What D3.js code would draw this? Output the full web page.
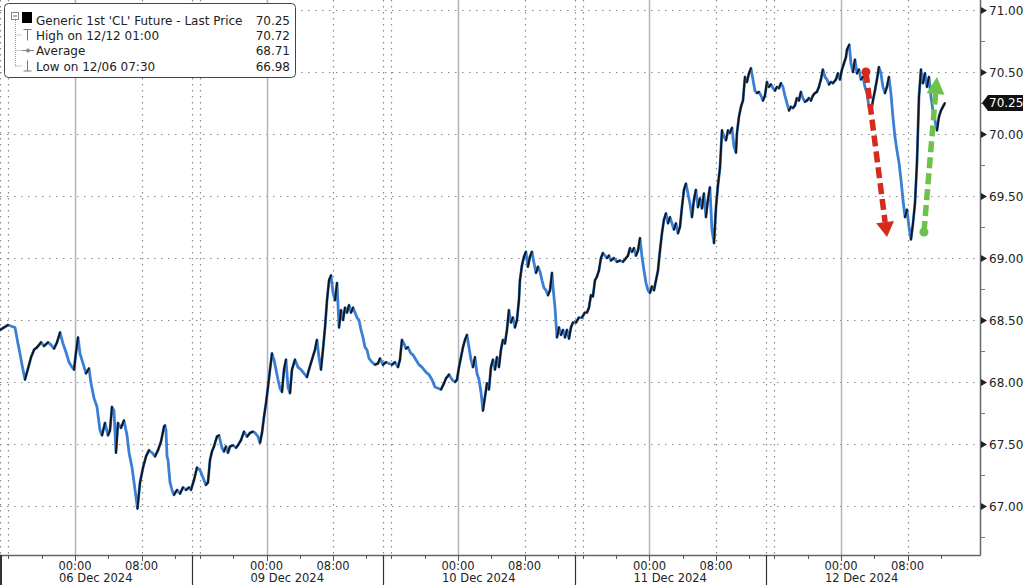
<!DOCTYPE html>
<meta charset="utf-8" />
<style>
  body { margin: 0; background: #fff; }
  svg text { font-family: "DejaVu Sans", Tahoma, sans-serif; fill: #222; }
</style>
<body>
<div id="chart"></div>
<script src="https://d3js.org/d3.v7.min.js"></script>
<script>
  // x values are trading-session hours since 06 Dec 00:00
  // (one day = 23 h on this axis, the 14:00-15:00 break is cut out)
  var sessDec06 = [[-9.01,68.42],[-8.05,68.46],[-7.21,68.44],[-6.85,68.31],[-6.61,68.23],[-6.37,68.14],[-6.01,68.02],[-5.64,68.11],[-5.28,68.20],[-4.92,68.26],[-4.56,68.28],[-4.08,68.32],[-3.72,68.29],[-3.24,68.32],[-2.88,68.30],[-2.52,68.27],[-2.16,68.32],[-1.80,68.40],[-1.44,68.31],[-1.08,68.24],[-0.72,68.16],[-0.36,68.12],[-0.12,68.10],
    [0.12,68.24],[0.36,68.36],[0.60,68.23],[0.96,68.15],[1.32,68.07],[1.68,68.11],[1.92,67.99],[2.28,67.87],[2.64,67.80],[3.00,67.61],[3.24,67.57],[3.60,67.67],[3.96,67.57],[4.20,67.61],[4.44,67.80],[4.68,67.77],[4.92,67.43],[5.16,67.67],[5.52,67.63],[5.88,67.69],[6.25,67.57],[6.49,67.43],[6.85,67.31],[7.09,67.19],[7.33,67.07],[7.50,66.98],[7.81,67.19],[8.17,67.31],[8.53,67.40],[8.89,67.45],[9.25,67.43],[9.61,67.40],[9.97,67.45],[10.33,67.52],[10.69,67.64],[10.81,67.65],[10.93,67.61],[11.05,67.40],[11.17,67.37],[11.41,67.19],[11.65,67.13],[11.89,67.09],[12.25,67.13],[12.61,67.10],[12.97,67.15],[13.33,67.13],[13.69,67.15],[13.93,67.13]];
  var sessDec09 = [[14.29,67.21],[14.65,67.31],[15.01,67.29],[15.37,67.23],[15.73,67.17],[15.97,67.19],[16.21,67.37],[16.45,67.44],[16.69,67.48],[17.05,67.56],[17.29,67.57],[17.65,67.47],[17.89,67.44],[18.13,67.48],[18.37,67.43],[18.61,67.48],[18.97,67.49],[19.33,67.47],[19.57,67.49],[19.93,67.53],[20.30,67.60],[20.66,67.56],[21.02,67.59],[21.38,67.60],[21.62,67.59],[21.98,67.56],[22.22,67.51],[22.46,67.59],[22.70,67.72],[22.94,67.83],[23.18,67.96],[23.42,68.10],[23.66,68.23],[23.90,68.18],[24.14,68.10],[24.38,68.02],[24.62,67.95],[24.86,67.92],[25.10,68.10],[25.34,68.18],[25.58,67.96],[25.82,67.91],[26.06,68.10],[26.42,68.18],[26.78,68.12],[27.14,68.10],[27.50,68.07],[27.86,68.04],[28.10,68.10],[28.46,68.18],[28.82,68.26],[29.06,68.34],[29.30,68.20],[29.54,68.10],[29.78,68.26],[30.03,68.44],[30.27,68.66],[30.51,68.82],[30.75,68.86],[30.99,68.72],[31.23,68.66],[31.47,68.80],[31.71,68.44],[31.95,68.58],[32.19,68.50],[32.43,68.60],[32.67,68.56],[32.91,68.62],[33.15,68.56],[33.39,68.60],[33.63,68.56],[33.87,68.52],[34.11,68.50],[34.35,68.42],[34.59,68.36],[34.83,68.28],[35.07,68.26],[35.31,68.19],[35.67,68.16],[36.03,68.14],[36.39,68.15],[36.63,68.19],[36.99,68.14]];
  var sessDec10 = [[37.35,68.16],[37.71,68.15],[38.07,68.14],[38.43,68.16],[38.79,68.12],[39.03,68.18],[39.27,68.34],[39.51,68.31],[39.75,68.27],[39.99,68.28],[40.35,68.23],[40.59,68.22],[40.95,68.18],[41.31,68.14],[41.67,68.12],[41.91,68.10],[42.15,68.08],[42.51,68.06],[42.87,68.02],[43.23,67.96],[43.60,67.95],[43.96,67.94],[44.32,67.99],[44.56,68.03],[44.92,68.06],[45.28,68.02],[45.64,68.00],[45.88,68.02],[46.12,68.12],[46.36,68.20],[46.60,68.28],[46.84,68.34],[47.08,68.38],[47.32,68.28],[47.56,68.18],[47.80,68.12],[48.04,68.20],[48.28,68.07],[48.52,68.02],[48.76,67.92],[49.00,67.77],[49.24,67.88],[49.48,67.99],[49.72,67.94],[49.96,68.12],[50.20,68.18],[50.44,68.10],[50.68,68.20],[50.92,68.12],[51.16,68.26],[51.40,68.34],[51.64,68.31],[51.88,68.42],[52.12,68.58],[52.36,68.48],[52.60,68.52],[52.84,68.44],[53.08,68.50],[53.32,68.66],[53.44,68.82],[53.68,68.94],[53.92,69.01],[54.16,69.05],[54.40,68.93],[54.64,69.01],[54.88,69.05],[55.13,68.96],[55.37,68.88],[55.61,68.93],[55.85,68.89],[56.09,68.82],[56.33,68.76],[56.57,68.74],[56.81,68.70],[57.05,68.74],[57.29,68.88],[57.41,68.77],[57.65,68.60],[57.89,68.36],[58.13,68.44],[58.37,68.38],[58.61,68.42],[58.85,68.36],[59.09,68.42],[59.33,68.35],[59.57,68.44],[59.81,68.48]];
  var sessDec11 = [[60.17,68.48],[60.53,68.52],[60.89,68.52],[61.25,68.56],[61.49,68.56],[61.73,68.60],[61.97,68.70],[62.21,68.69],[62.45,68.82],[62.69,68.85],[62.93,68.90],[63.17,69.00],[63.41,69.04],[63.65,69.02],[63.89,69.00],[64.13,69.02],[64.37,68.98],[64.73,69.00],[65.09,68.97],[65.45,68.98],[65.81,68.97],[66.18,69.00],[66.42,69.02],[66.66,69.08],[66.90,69.05],[67.14,69.08],[67.38,69.02],[67.62,69.06],[67.86,69.16],[68.10,69.01],[68.34,68.90],[68.58,68.80],[68.82,68.74],[69.06,68.72],[69.30,68.77],[69.54,68.74],[69.78,68.82],[70.02,68.90],[70.26,69.06],[70.50,69.20],[70.74,69.31],[70.98,69.36],[71.22,69.28],[71.46,69.33],[71.70,69.28],[71.94,69.23],[72.18,69.28],[72.42,69.20],[72.66,69.25],[72.90,69.41],[73.14,69.55],[73.38,69.60],[73.62,69.52],[73.86,69.44],[74.10,69.33],[74.34,69.47],[74.58,69.55],[74.82,69.41],[75.06,69.48],[75.30,69.40],[75.54,69.52],[75.78,69.33],[76.02,69.47],[76.26,69.57],[76.50,69.23],[76.75,69.12],[76.99,69.41],[77.23,69.59],[77.47,69.73],[77.71,70.03],[77.95,69.98],[78.19,69.95],[78.43,70.03],[78.67,70.01],[78.91,70.05],[79.15,69.90],[79.39,69.85],[79.51,70.01],[79.75,70.14],[79.99,70.22],[80.23,70.27],[80.47,70.46],[80.71,70.42],[80.95,70.49],[81.19,70.53],[81.43,70.44],[81.67,70.35],[81.91,70.33],[82.15,70.34],[82.39,70.31],[82.63,70.27],[82.87,70.31]];
  var sessDec12 = [[83.11,70.42],[83.35,70.38],[83.59,70.40],[83.83,70.37],[84.07,70.35],[84.31,70.38],[84.55,70.37],[84.79,70.41],[85.03,70.38],[85.27,70.31],[85.51,70.25],[85.75,70.19],[85.99,70.22],[86.23,70.21],[86.47,70.23],[86.71,70.29],[86.95,70.27],[87.19,70.34],[87.43,70.29],[87.67,70.26],[87.91,70.27],[88.15,70.29],[88.39,70.27],[88.63,70.31],[88.87,70.33],[89.11,70.34],[89.35,70.38],[89.59,70.44],[89.83,70.52],[90.08,70.46],[90.32,70.44],[90.56,70.40],[90.80,70.42],[91.04,70.41],[91.40,70.44],[91.64,70.49],[91.88,70.44],[92.12,70.52],[92.36,70.57],[92.60,70.62],[92.72,70.68],[93.00,70.72],[93.20,70.57],[93.44,70.50],[93.68,70.60],[93.92,70.49],[94.16,70.52],[94.40,70.44],[94.64,70.46],[94.88,70.38],[95.12,70.33],[95.36,70.22],[95.60,70.17],[95.84,70.27],[96.08,70.35],[96.32,70.44],[96.56,70.54],[96.80,70.49],[97.04,70.38],[97.28,70.33],[97.52,70.38],[97.76,70.46],[98.00,70.33],[98.24,70.14],[98.48,69.98],[98.72,69.87],[98.97,69.77],[99.21,69.63],[99.45,69.47],[99.69,69.33],[99.93,69.39],[100.17,69.25],[100.41,69.15],[100.65,69.28],[100.89,69.44],[101.13,69.77],[101.37,70.30],[101.61,70.52],[101.85,70.41],[102.09,70.49],[102.33,70.38],[102.57,70.46],[102.81,70.30],[103.05,70.19],[103.29,70.11],[103.53,70.03],[103.77,70.14],[104.01,70.19],[104.25,70.22],[104.49,70.25]];

  var dayLabels = ["06 Dec 2024", "09 Dec 2024", "10 Dec 2024", "11 Dec 2024", "12 Dec 2024"];
  var timeLabels = ["00:00", "08:00"];
  var priceTicks = [67, 67.5, 68, 68.5, 69, 69.5, 70, 70.5, 71];
  var legendNames = ["Generic 1st 'CL' Future - Last Price", "High on 12/12 01:00", "Average", "Low on 12/06 07:30"];
  var legendValues = ["70.25", "70.72", "68.71", "66.98"];
  var lastPrice = 70.25;
  // hand drawn arrows: [start hour, start price, end hour, end price]
  var redArrow = [95.0, 70.50, 97.53, 69.17];
  var greenArrow = [101.97, 69.21, 103.53, 70.46];

  var width = 1024, height = 585;
  var plotRight = 980, plotBottom = 555;

  var series = sessDec06.concat(sessDec09, sessDec10, sessDec11, sessDec12);

  var x = d3.scaleLinear().domain([-9.01, 108.7]).range([0, plotRight]);
  var y = d3.scaleLinear().domain([66.605, 71.081]).range([plotBottom, 0]);

  var svg = d3.select("#chart").append("svg")
    .attr("width", width).attr("height", height);

  // grid
  var grid = svg.append("g");
  var dayIdx = d3.range(-1, 5);
  var lastHour = 105;

  priceTicks.forEach(function (p) {
    grid.append("line")
      .attr("x1", 0).attr("x2", plotRight)
      .attr("y1", Math.round(y(p)) + 0.5).attr("y2", Math.round(y(p)) + 0.5)
      .attr("stroke", "#8a8a8a").attr("stroke-width", 1.2)
      .attr("stroke-dasharray", "1.5,5.5");
  });

  dayIdx.forEach(function (k) {
    [8, 14, 15].forEach(function (o) {
      var s = 23 * k + o;
      if (s < -9.02 || s > lastHour) return;
      grid.append("line")
        .attr("x1", Math.round(x(s)) + 0.5).attr("x2", Math.round(x(s)) + 0.5)
        .attr("y1", 0).attr("y2", plotBottom)
        .attr("stroke", "#8a8a8a").attr("stroke-width", 1.2)
        .attr("stroke-dasharray", "1.5,4.5");
    });
    if (k >= 0) {
      grid.append("line")
        .attr("x1", Math.round(x(23 * k)) + 0.5).attr("x2", Math.round(x(23 * k)) + 0.5)
        .attr("y1", 0).attr("y2", plotBottom)
        .attr("stroke", "#b4b4b4").attr("stroke-width", 1.5);
    }
  });

  // price line: blue base, black where price goes up
  var line = d3.line().x(function (d) { return x(d[0]); }).y(function (d) { return y(d[1]); });
  svg.append("path").datum(series)
    .attr("fill", "none").attr("stroke", "#3a7fd5").attr("stroke-width", 2.8)
    .attr("stroke-linejoin", "round").attr("d", line);

  var ups = [];
  for (var i = 1; i < series.length; i++) {
    if (series[i][1] > series[i - 1][1]) ups.push([series[i - 1], series[i]]);
  }
  svg.append("g").selectAll("line").data(ups).enter().append("line")
    .attr("x1", function (d) { return x(d[0][0]); })
    .attr("y1", function (d) { return y(d[0][1]); })
    .attr("x2", function (d) { return x(d[1][0]); })
    .attr("y2", function (d) { return y(d[1][1]); })
    .attr("stroke", "#151515").attr("stroke-width", 1.9)
    .attr("stroke-linecap", "round");

  // arrows
  function drawArrow(a, color, headLen, headHalf) {
    var x0 = x(a[0]), y0 = y(a[1]), x1 = x(a[2]), y1 = y(a[3]);
    var dx = x1 - x0, dy = y1 - y0, len = Math.sqrt(dx * dx + dy * dy);
    var ux = dx / len, uy = dy / len;
    var bx = x1 - ux * headLen, by = y1 - uy * headLen;
    var g = svg.append("g");
    g.append("line")
      .attr("x1", x0).attr("y1", y0).attr("x2", bx).attr("y2", by)
      .attr("stroke", color).attr("stroke-width", 5.5)
      .attr("stroke-dasharray", "11,5");
    g.append("circle").attr("cx", x0).attr("cy", y0).attr("r", 4.5).attr("fill", color);
    g.append("path")
      .attr("d", "M" + x1 + "," + y1 +
        "L" + (bx - uy * headHalf) + "," + (by + ux * headHalf) +
        "L" + (bx + uy * headHalf) + "," + (by - ux * headHalf) + "Z")
      .attr("fill", color);
  }
  drawArrow(redArrow, "#d52a1e", 15, 9);
  drawArrow(greenArrow, "#6cc24a", 17, 9);

  // frame
  svg.append("line")
    .attr("x1", 0).attr("x2", plotRight + 0.5)
    .attr("y1", plotBottom + 0.5).attr("y2", plotBottom + 0.5)
    .attr("stroke", "#666").attr("stroke-width", 1.5);
  svg.append("line")
    .attr("x1", plotRight + 0.5).attr("x2", plotRight + 0.5)
    .attr("y1", 0).attr("y2", plotBottom + 0.5)
    .attr("stroke", "#666").attr("stroke-width", 1.5);

  // right axis
  var yAxis = svg.append("g");
  d3.range(66.75, 71.01, 0.25).forEach(function (p) {
    yAxis.append("line")
      .attr("x1", plotRight + 1).attr("x2", plotRight + 5)
      .attr("y1", Math.round(y(p)) + 0.5).attr("y2", Math.round(y(p)) + 0.5)
      .attr("stroke", "#777");
  });
  priceTicks.forEach(function (p) {
    var yy = Math.round(y(p)) + 0.5;
    yAxis.append("path")
      .attr("d", "M" + (plotRight + 1) + "," + (yy - 3.5) + "L" + (plotRight + 7) + "," + yy +
        "L" + (plotRight + 1) + "," + (yy + 3.5) + "Z")
      .attr("fill", "#222");
    yAxis.append("text")
      .attr("x", plotRight + 9).attr("y", yy).attr("dy", "0.36em")
      .style("font-size", "12px")
      .text(d3.format(".2f")(p));
  });

  // last price tag
  var ly = y(lastPrice);
  svg.append("path")
    .attr("d", "M" + (plotRight + 2) + "," + ly + "L" + (plotRight + 8) + "," + (ly - 8) +
      "L" + (width - 1) + "," + (ly - 8) + "L" + (width - 1) + "," + (ly + 8) +
      "L" + (plotRight + 8) + "," + (ly + 8) + "Z")
    .attr("fill", "#111");
  svg.append("text")
    .attr("x", plotRight + 9).attr("y", ly).attr("dy", "0.36em")
    .style("font-size", "12px").style("fill", "#fff")
    .text(d3.format(".2f")(lastPrice));

  // bottom axis
  var xAxis = svg.append("g");
  dayIdx.forEach(function (k) {
    [0, 4, 8, 12, 15, 19].forEach(function (o) {
      var s = 23 * k + o;
      if (s < -9.02 || s > lastHour) return;
      var major = (o === 0 || o === 8);
      xAxis.append("line")
        .attr("x1", Math.round(x(s)) + 0.5).attr("x2", Math.round(x(s)) + 0.5)
        .attr("y1", plotBottom).attr("y2", plotBottom + (major ? 6 : 4))
        .attr("stroke", "#555");
    });
    if (k <= 3) {
      xAxis.append("line")
        .attr("x1", Math.max(1, Math.round(x(23 * k + 14)) + 0.5))
        .attr("x2", Math.max(1, Math.round(x(23 * k + 14)) + 0.5))
        .attr("y1", plotBottom).attr("y2", height)
        .attr("stroke", "#333").attr("stroke-width", k < 0 ? 2 : 1.2);
    }
    if (k >= 0) {
      [0, 8].forEach(function (o, j) {
        xAxis.append("text")
          .attr("x", x(23 * k + o)).attr("y", plotBottom + 15)
          .attr("text-anchor", "middle")
          .style("font-size", "11.5px")
          .text(timeLabels[j]);
      });
      xAxis.append("text")
        .attr("x", x(23 * k) - 16).attr("y", plotBottom + 27)
        .style("font-size", "11.5px")
        .text(dayLabels[k]);
    }
  });

  // legend
  var lg = svg.append("g");
  lg.append("rect")
    .attr("x", 4.5).attr("y", 3.5).attr("width", 291).attr("height", 74).attr("rx", 4)
    .attr("fill", "#fff").attr("stroke", "#444");
  var rowY = [24.5, 39.5, 55, 70.5];
  lg.append("line").attr("x1", 15.5).attr("x2", 15.5).attr("y1", 20).attr("y2", rowY[3] - 4)
    .attr("stroke", "#999").attr("stroke-dasharray", "1,1");
  rowY.slice(1).forEach(function (ry) {
    lg.append("line").attr("x1", 15.5).attr("x2", 22).attr("y1", ry - 4.5).attr("y2", ry - 4.5)
      .attr("stroke", "#999").attr("stroke-dasharray", "1,1");
  });
  lg.append("rect").attr("x", 11.5).attr("y", 12.5).attr("width", 7).attr("height", 7)
    .attr("fill", "#fff").attr("stroke", "#888");
  lg.append("line").attr("x1", 13).attr("x2", 17).attr("y1", 16).attr("y2", 16).attr("stroke", "#666");
  lg.append("rect").attr("x", 22).attr("y", 12).attr("width", 10).attr("height", 11).attr("fill", "#000");
  // high marker
  lg.append("path").attr("d", "M23.5," + (rowY[1] - 10) + "H31.5M27.5," + (rowY[1] - 10) + "V" + (rowY[1] + 1))
    .attr("stroke", "#777").attr("fill", "none");
  // average marker
  lg.append("line").attr("x1", 22).attr("x2", 34).attr("y1", rowY[2] - 4.5).attr("y2", rowY[2] - 4.5).attr("stroke", "#888");
  lg.append("circle").attr("cx", 28).attr("cy", rowY[2] - 4.5).attr("r", 2).attr("fill", "#888");
  // low marker
  lg.append("path").attr("d", "M27.5," + (rowY[3] - 10) + "V" + (rowY[3] + 0.5) + "M23.5," + (rowY[3] + 0.5) + "H31.5")
    .attr("stroke", "#777").attr("fill", "none");
  legendNames.forEach(function (n, i) {
    lg.append("text").attr("x", 36).attr("y", rowY[i]).style("font-size", "12px").text(n);
    lg.append("text").attr("x", 290).attr("y", rowY[i]).attr("text-anchor", "end")
      .style("font-size", "12px").text(legendValues[i]);
  });
</script>
</body>
